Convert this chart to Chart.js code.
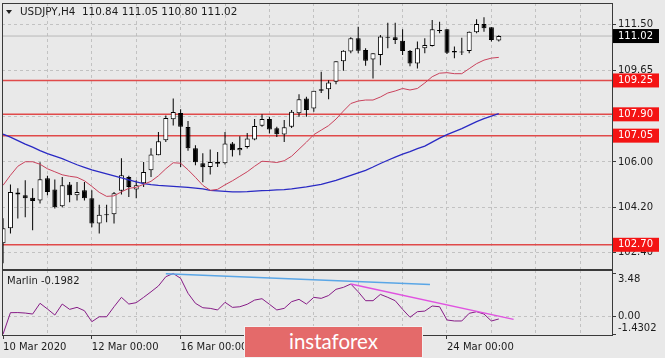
<!DOCTYPE html>
<html>
<head>
<meta charset="utf-8">
<title>USDJPY,H4</title>
<script src="https://cdn.jsdelivr.net/npm/chart.js@4.4.1/dist/chart.umd.min.js"></script>
<style>
  html, body { margin: 0; padding: 0; background: #e9e9e9; }
  #wrap { position: relative; width: 665px; height: 358px; overflow: hidden; background: #e9e9e9;
          font-family: "DejaVu Sans", sans-serif; color: #1c1c1c; }
  canvas { position: absolute; left: 0; }
  #main { top: 0; }
  #ind { top: 270px; }
  #arrow { position: absolute; left: 6px; top: 10px; width: 0; height: 0;
           border-left: 3.5px solid transparent; border-right: 3.5px solid transparent; border-top: 4px solid #222; }
  #title { position: absolute; left: 20px; top: 5px; font-size: 10.4px; white-space: pre; }
  #marlin { position: absolute; left: 7px; top: 275px; font-size: 10px; }
  #logo { position: absolute; left: 244px; top: 326px; width: 177px; height: 30px;
          background: #e46a6a; border: 1px solid #f2f2f2; color: #fff;
          font-family: Lato, sans-serif; font-size: 20.5px; line-height: 29px; text-align: center; }
</style>
</head>
<body>
<div id="wrap">
  <canvas id="main" width="665" height="270"></canvas>
  <canvas id="ind" width="665" height="88"></canvas>
  <div id="arrow"></div>
  <div id="title">USDJPY,H4  110.84 111.05 110.80 111.02</div>
  <div id="marlin">Marlin -0.1982</div>
  <div id="logo">instaforex</div>
</div>
<script>
// H4 candles, one per bar index
const opens = [102.76, 103.36, 104.78, 104.67, 104.57, 104.47, 105.35, 104.90, 104.24, 105.10,
               104.67, 104.87, 104.55, 103.55, 103.88, 103.92, 104.85, 105.40, 104.90, 105.15,
               105.67, 106.27, 106.87, 107.70, 107.95, 107.39, 106.55, 105.95, 105.80, 106.00,
               105.95, 106.74, 106.47, 106.60, 106.90, 107.44, 107.71, 107.34, 107.10, 107.40,
               107.94, 108.53, 108.13, 108.90, 108.90, 109.20, 110.02, 110.40, 110.93, 110.46,
               110.09, 110.26, 110.95, 110.97, 110.83, 110.42, 109.93, 110.53, 110.62, 111.22,
               111.29, 110.42, 110.40, 110.42, 111.17, 111.50, 111.37, 110.84];
const highs = [103.76, 105.10, 104.95, 105.27, 104.95, 105.99, 105.45, 105.30, 105.40, 105.20,
               105.20, 105.20, 104.87, 104.30, 104.30, 104.80, 106.15, 105.45, 105.27, 106.00,
               106.55, 107.20, 107.85, 108.53, 108.10, 107.63, 106.67, 106.35, 106.50, 106.40,
               107.20, 106.80, 107.03, 107.16, 107.71, 107.90, 107.80, 107.40, 107.67, 108.07,
               108.70, 108.60, 108.84, 109.60, 109.26, 110.02, 110.45, 110.97, 111.39, 110.53,
               110.33, 111.06, 111.55, 111.55, 111.29, 110.46, 110.80, 110.93, 111.66, 111.59,
               111.30, 110.60, 110.95, 111.20, 111.69, 111.77, 111.37, 111.05];
const lows = [101.96, 103.15, 103.75, 103.80, 103.28, 104.35, 104.67, 104.15, 104.20, 104.40,
              104.47, 104.47, 103.40, 103.15, 103.60, 103.55, 104.70, 104.60, 104.55, 105.00,
              105.40, 106.27, 106.80, 107.45, 105.80, 106.45, 105.87, 105.19, 105.50, 105.80,
              105.90, 106.22, 106.27, 106.54, 106.87, 107.40, 107.14, 107.00, 106.80, 107.35,
              107.80, 107.80, 108.00, 108.75, 108.50, 109.10, 109.64, 110.33, 110.33, 109.84,
              109.33, 109.86, 110.53, 110.70, 110.26, 109.82, 109.73, 110.33, 110.60, 111.13,
              110.30, 110.13, 110.26, 110.33, 111.13, 111.19, 110.80, 110.80];
const closes = [103.36, 104.80, 104.70, 104.55, 104.45, 105.31, 104.80, 104.20, 105.07, 104.67,
                104.80, 104.55, 103.55, 103.90, 103.92, 104.75, 105.47, 105.00, 105.07, 105.60,
                106.30, 106.83, 107.75, 107.99, 107.40, 106.55, 105.99, 105.79, 106.00, 105.93,
                106.74, 106.47, 106.56, 106.94, 107.43, 107.71, 107.30, 107.11, 107.38, 108.00,
                108.50, 108.07, 108.84, 108.84, 109.17, 110.02, 110.43, 110.93, 110.43, 110.04,
                110.33, 111.00, 110.97, 110.86, 110.42, 109.93, 110.53, 110.66, 111.29, 111.25,
                110.35, 110.36, 110.36, 111.19, 111.50, 111.33, 110.86, 111.02];

// moving averages
const maFast = [105.07, 105.47, 105.83, 106.01, 106.01, 105.91, 105.73, 105.61, 105.49, 105.43,
                105.39, 105.25, 105.03, 104.79, 104.63, 104.65, 104.81, 104.95, 104.99, 105.11,
                105.23, 105.45, 105.73, 105.97, 105.95, 105.69, 105.39, 105.07, 104.87, 104.91,
                105.09, 105.25, 105.43, 105.61, 105.83, 106.03, 106.01, 105.98, 106.05, 106.23,
                106.51, 106.79, 107.09, 107.27, 107.45, 107.71, 108.03, 108.33, 108.43, 108.47,
                108.47, 108.59, 108.75, 108.83, 108.93, 108.87, 108.93, 109.15, 109.40, 109.54,
                109.56, 109.52, 109.52, 109.72, 109.92, 110.06, 110.14, 110.17];
const maSlow = [107.11, 106.99, 106.85, 106.71, 106.59, 106.45, 106.33, 106.23, 106.13, 106.01,
                105.89, 105.79, 105.69, 105.61, 105.53, 105.45, 105.37, 105.29, 105.21, 105.14,
                105.10, 105.07, 105.05, 105.03, 105.01, 104.99, 104.96, 104.93, 104.87, 104.85,
                104.83, 104.81, 104.81, 104.82, 104.84, 104.86, 104.87, 104.89, 104.90, 104.93,
                104.97, 105.01, 105.06, 105.11, 105.19, 105.27, 105.37, 105.47, 105.57, 105.67,
                105.80, 105.94, 106.07, 106.19, 106.31, 106.41, 106.53, 106.63, 106.79, 106.95,
                107.09, 107.21, 107.33, 107.47, 107.61, 107.73, 107.83, 107.93];

// Marlin oscillator
const marlin = [-1.4302, 0.31, 0.32, 0.28, 0.20, 1.07, 0.61, 0.12, 1.01, 0.58,
                0.74, 0.47, -0.42, -0.02, -0.02, 0.79, 1.55, 1.01, 1.12, 1.55,
                2.00, 2.47, 3.22, 3.48, 3.09, 1.88, 1.07, 0.71, 0.66, 0.53,
                1.15, 0.74, 0.79, 0.99, 1.33, 1.44, 0.99, 0.53, 0.66, 1.20,
                1.39, 1.01, 1.55, 1.47, 1.70, 2.20, 2.36, 2.63, 2.00, 1.28,
                1.28, 1.79, 1.55, 1.28, 0.58, -0.06, 0.39, 0.44, 0.85, 0.79,
                -0.28, -0.36, -0.36, 0.26, 0.39, 0.20, -0.36, -0.1982];
const trendBlue = [[22, 3.46], [57.7, 2.60]];
const trendPink = [[47, 2.63], [69, -0.23]];

const levels = [109.25, 107.90, 107.05, 102.70];
const bidPrice = 111.02;
const priceTicks = [111.50, 109.65, 107.82, 106.00, 104.20, 102.40];
const priceTickLabels = ['111.50', '109.65', '', '106.00', '104.20', '102.40'];
const marlinTicks = [3.48, 0, -1.4302];
const marlinTickLabels = ['3.48', '0.00', '-1.4302'];
// visible time labels (the ones under the logo are left out)
const timeBars = [0, 12, 24, 60];
const timeLabels = ['10 Mar 2020', '12 Mar 00:00', '16 Mar 00:00', '24 Mar 00:00'];

const X_MIN = -0.14, X_MAX = 82.3;
const dayBars = [];
for (let b = 6; b <= 78; b += 6) dayBars.push(b);

Chart.defaults.font.family = '"DejaVu Sans", sans-serif';
Chart.defaults.font.size = 10;
Chart.defaults.color = '#1c1c1c';

const pts = arr => arr.map((v, i) => ({x: i, y: v}));
const flat = v => [{x: X_MIN, y: v}, {x: X_MAX, y: v}];

const framePlugin = {
    id: 'frame',
    afterDraw(chart) {
        const {ctx, chartArea: a} = chart;
        ctx.save();
        ctx.strokeStyle = '#3a3a3a';
        ctx.lineWidth = 1;
        ctx.strokeRect(a.left + 0.5, a.top + 0.5, a.right - a.left, a.bottom - a.top);
        ctx.restore();
    }
};

const isGridPrice = c => c.tick && priceTicks.includes(c.tick.value);

let mainSets = levels.map(lv => ({
    type: 'line', data: flat(lv), borderColor: '#e04a4a', borderWidth: 1.5,
    pointRadius: 0, order: 6
}));
mainSets.push({
    type: 'line', data: flat(bidPrice), borderColor: '#b8b8b8', borderWidth: 1,
    pointRadius: 0, order: 6
});
mainSets.push({
    type: 'bar', grouped: false, order: 4,
    data: opens.map((o, i) => ({x: i, y: [lows[i], highs[i]]})),
    backgroundColor: '#000', borderWidth: 0, barThickness: 1, inflateAmount: 0
});
mainSets.push({
    type: 'bar', grouped: false, order: 3,
    data: opens.map((o, i) => ({x: i, y: [o, closes[i]]})),
    backgroundColor: opens.map((o, i) => closes[i] - o > 0.02 ? '#ffffff' : '#000000'),
    borderColor: '#000', borderWidth: 1, borderSkipped: false,
    barThickness: 5, minBarLength: 1, inflateAmount: 0
});
mainSets.push({
    type: 'line', data: pts(maFast), borderColor: '#c9425c', borderWidth: 1,
    pointRadius: 0, order: 1
});
mainSets.push({
    type: 'line', data: pts(maSlow), borderColor: '#2a2ac4', borderWidth: 1.3,
    pointRadius: 0, order: 1
});

new Chart(document.getElementById('main'), {
    type: 'bar',
    data: {datasets: mainSets},
    plugins: [framePlugin],
    options: {
        responsive: false,
        animation: false,
        events: [],
        layout: {padding: {left: 2, top: 3, right: 0, bottom: 1}},
        plugins: {legend: {display: false}, tooltip: {enabled: false}},
        scales: {
            x: {
                type: 'linear', min: X_MIN, max: X_MAX, offset: false, bounds: 'data',
                afterBuildTicks: s => { s.ticks = dayBars.map(v => ({value: v})); },
                afterFit: s => { s.height = 0; },
                border: {display: false, dash: [3, 3]},
                grid: {color: '#c2c2c2', drawTicks: false, offset: false},
                ticks: {display: false}
            },
            y: {
                type: 'linear', position: 'right', min: 101.735, max: 112.337, bounds: 'data',
                afterBuildTicks: s => {
                    s.ticks = priceTicks.concat([bidPrice], levels).map(v => ({value: v}));
                },
                afterFit: s => { s.width = 53; s.paddingTop = 0; s.paddingBottom = 0; },
                border: {display: false, dash: [3, 3]},
                grid: {
                    color: c => isGridPrice(c) ? '#c2c2c2' : 'transparent',
                    tickColor: c => isGridPrice(c) ? '#3a3a3a' : 'transparent',
                    tickLength: 4
                },
                ticks: {
                    autoSkip: false, padding: 2,
                    font: {size: 10, lineHeight: 1.2},
                    color: c => isGridPrice(c) ? '#1c1c1c' : '#ffffff',
                    showLabelBackdrop: c => !isGridPrice(c),
                    backdropColor: c => (c.tick && c.tick.value === bidPrice) ? '#000000' : '#f41414',
                    backdropPadding: {left: 5, right: 6, top: 1, bottom: 1},
                    callback: v => {
                        const k = priceTicks.indexOf(v);
                        return k >= 0 ? priceTickLabels[k] : v.toFixed(2);
                    }
                }
            }
        }
    }
});

new Chart(document.getElementById('ind'), {
    type: 'line',
    data: {
        datasets: [
            {data: pts(marlin), borderColor: '#861c86', borderWidth: 1, pointRadius: 0, order: 2},
            {data: trendBlue.map(p => ({x: p[0], y: p[1]})), borderColor: '#5aa6e6', borderWidth: 1.5, pointRadius: 0, order: 1},
            {data: trendPink.map(p => ({x: p[0], y: p[1]})), borderColor: '#e052e0', borderWidth: 1.5, pointRadius: 0, order: 1}
        ]
    },
    plugins: [framePlugin],
    options: {
        responsive: false,
        animation: false,
        events: [],
        layout: {padding: {left: 2, top: 0, right: 0, bottom: 0}},
        plugins: {legend: {display: false}, tooltip: {enabled: false}},
        scales: {
            x: {
                type: 'linear', min: X_MIN, max: X_MAX, offset: false, bounds: 'data',
                afterBuildTicks: s => { s.ticks = [0].concat(dayBars).map(v => ({value: v})); },
                afterFit: s => { s.height = 23; s.paddingLeft = 0; s.paddingRight = 0; },
                border: {display: false, dash: [3, 3]},
                grid: {
                    color: c => (c.tick && c.tick.value > 0) ? '#c2c2c2' : 'transparent',
                    tickColor: c => (c.tick && timeBars.includes(c.tick.value)) ? '#3a3a3a' : 'transparent',
                    tickLength: 4, offset: false
                },
                ticks: {
                    autoSkip: false, align: 'start', maxRotation: 0, padding: 2,
                    callback: v => {
                        const k = timeBars.indexOf(v);
                        return k >= 0 ? timeLabels[k] : '';
                    }
                }
            },
            y: {
                type: 'linear', position: 'right', min: -1.495, max: 3.763, bounds: 'data',
                afterBuildTicks: s => { s.ticks = marlinTicks.map(v => ({value: v})); },
                afterFit: s => { s.width = 53; s.paddingTop = 0; s.paddingBottom = 0; },
                border: {display: false, dash: [3, 3]},
                grid: {
                    color: c => (c.tick && c.tick.value === 0) ? '#c2c2c2' : 'transparent',
                    tickColor: '#3a3a3a',
                    tickLength: 4
                },
                ticks: {
                    autoSkip: false, padding: 2,
                    font: {size: 10, lineHeight: 1.1},
                    callback: (v, i) => {
                        const k = marlinTicks.indexOf(v);
                        const txt = k >= 0 ? marlinTickLabels[k] : '';
                        if (k === 0) return ['', txt];
                        if (k === marlinTicks.length - 1) return [txt, ''];
                        return txt;
                    }
                }
            }
        }
    }
});
</script>
</body>
</html>
